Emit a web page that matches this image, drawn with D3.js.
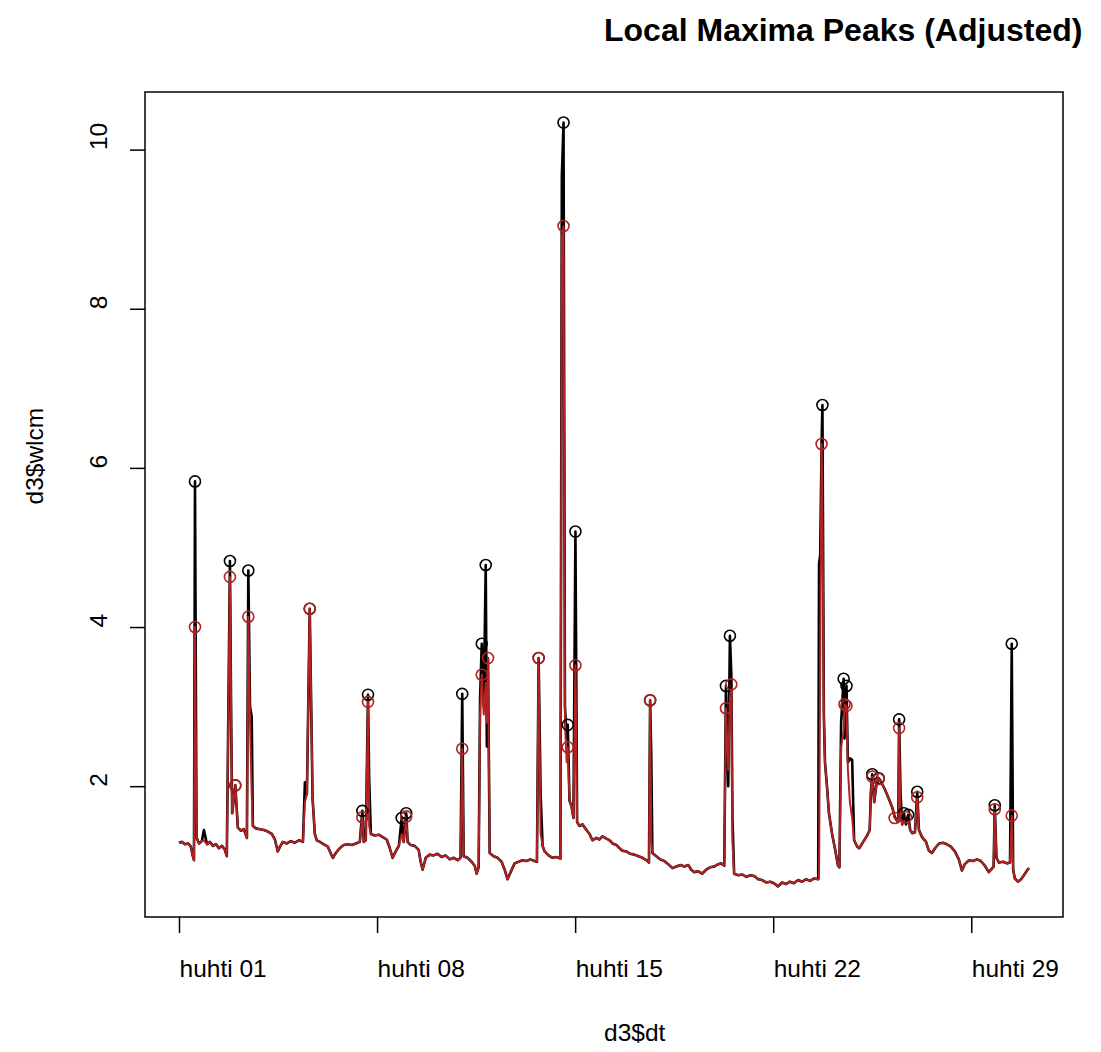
<!DOCTYPE html>
<html>
<head>
<meta charset="utf-8">
<script src="https://cdnjs.cloudflare.com/ajax/libs/d3/7.8.5/d3.min.js"></script>
<style>
  html, body { margin: 0; padding: 0; background: #ffffff; }
  svg { display: block; font-family: "Liberation Sans", Arial, sans-serif; }
</style>
</head>
<body>
<svg id="chart" width="1101" height="1052"></svg>
<script>
// ---------------- DATA ----------------
const titleText = "Local Maxima Peaks (Adjusted)";
const xLabel = "d3$dt";
const yLabel = "d3$wlcm";
const startDate = new Date(2017, 3, 1, 0, 0, 0); // huhti 01
const tickDays = [0, 7, 14, 21, 28];
const tickLabels = ["huhti 01", "huhti 08", "huhti 15", "huhti 22", "huhti 29"];
const yTicks = [2, 4, 6, 8, 10];

// [day offset from huhti 01, raw water level (cm), adjusted water level (cm)]
const obs = [
  [0.00,1.29,1.29],[0.11,1.30,1.30],[0.21,1.27,1.27],[0.32,1.28,1.28],[0.42,1.24,1.24],
  [0.49,1.12,1.12],[0.53,1.07,1.07],[0.565,5.83,4.00],[0.62,1.35,1.35],[0.71,1.28,1.28],
  [0.81,1.31,1.31],[0.88,1.45,1.32],[0.99,1.27,1.27],[1.09,1.30,1.30],[1.20,1.25,1.25],
  [1.31,1.27,1.27],[1.41,1.22,1.22],[1.52,1.25,1.25],[1.62,1.20,1.20],[1.69,1.12,1.12],
  [1.80,4.83,4.63],[1.85,2.60,2.60],[1.88,1.66,1.66],[1.99,2.01,2.01],[2.08,1.48,1.48],
  [2.19,1.44,1.44],[2.29,1.46,1.46],[2.37,1.38,1.38],[2.40,1.35,1.35],[2.45,4.71,4.13],
  [2.51,3.00,2.80],[2.57,2.87,1.90],[2.61,1.50,1.50],[2.72,1.47,1.47],[2.86,1.46,1.46],
  [3.00,1.45,1.45],[3.14,1.43,1.43],[3.28,1.40,1.40],[3.39,1.33,1.33],[3.49,1.18,1.18],
  [3.57,1.24,1.24],[3.67,1.30,1.30],[3.81,1.28,1.28],[3.95,1.31,1.31],[4.09,1.29,1.29],
  [4.24,1.32,1.32],[4.38,1.30,1.30],[4.45,2.05,1.80],[4.52,1.90,1.90],[4.62,4.23,4.23],
  [4.69,2.60,2.60],[4.72,1.85,1.85],[4.80,1.40,1.40],[4.87,1.32,1.32],[4.98,1.30,1.30],
  [5.12,1.27,1.27],[5.26,1.24,1.24],[5.37,1.15,1.15],[5.44,1.10,1.10],[5.54,1.16,1.16],
  [5.68,1.22,1.22],[5.82,1.26,1.26],[5.97,1.27,1.27],[6.11,1.26,1.26],[6.25,1.28,1.28],
  [6.39,1.30,1.30],[6.48,1.69,1.61],[6.53,1.30,1.30],[6.60,1.32,1.32],[6.68,3.15,3.06],
  [6.72,2.10,1.50],[6.78,1.40,1.40],[6.92,1.38,1.38],[7.06,1.39,1.39],[7.20,1.36,1.36],
  [7.34,1.33,1.33],[7.45,1.22,1.22],[7.55,1.10,1.10],[7.66,1.18,1.18],[7.77,1.25,1.25],
  [7.87,1.60,1.40],[7.94,1.30,1.30],[8.03,1.66,1.62],[8.08,1.30,1.30],[8.19,1.26,1.26],
  [8.33,1.25,1.25],[8.47,1.20,1.20],[8.54,1.05,1.05],[8.61,0.95,0.95],[8.72,1.10,1.10],
  [8.86,1.14,1.14],[9.00,1.13,1.13],[9.14,1.15,1.15],[9.28,1.11,1.11],[9.42,1.13,1.13],
  [9.57,1.08,1.08],[9.71,1.10,1.10],[9.85,1.07,1.07],[9.95,1.10,1.10],[10.01,3.16,2.47],
  [10.06,1.12,1.12],[10.20,1.10,1.10],[10.34,1.05,1.05],[10.45,1.00,1.00],[10.52,0.90,0.90],
  [10.59,0.98,0.98],[10.64,3.10,2.90],[10.70,3.79,3.40],[10.77,3.00,2.90],[10.84,4.78,3.30],
  [10.88,2.50,2.80],[10.92,3.61,3.61],[10.98,1.16,1.16],[11.12,1.12,1.12],[11.26,1.10,1.10],
  [11.40,1.05,1.05],[11.51,0.95,0.95],[11.61,0.83,0.83],[11.72,0.92,0.92],[11.86,1.03,1.03],
  [12.00,1.05,1.05],[12.14,1.07,1.07],[12.28,1.06,1.06],[12.42,1.08,1.08],[12.56,1.06,1.06],
  [12.65,1.05,1.05],[12.71,3.61,3.61],[12.78,1.90,1.40],[12.85,1.25,1.25],[12.92,1.18,1.18],
  [13.06,1.13,1.13],[13.20,1.10,1.10],[13.34,1.11,1.11],[13.48,1.09,1.09],[13.53,9.66,8.90],
  [13.59,10.34,9.04],[13.64,3.00,2.80],[13.70,2.60,2.30],[13.74,2.77,2.49],[13.80,1.82,1.82],
  [13.87,1.75,1.75],[13.94,1.60,1.60],[14.01,5.20,3.52],[14.07,1.55,1.55],[14.15,1.50,1.50],
  [14.26,1.52,1.52],[14.40,1.45,1.45],[14.51,1.40,1.40],[14.61,1.32,1.32],[14.75,1.35,1.35],
  [14.86,1.33,1.33],[14.96,1.37,1.37],[15.11,1.34,1.34],[15.22,1.32,1.32],[15.32,1.28,1.28],
  [15.46,1.26,1.26],[15.57,1.22,1.22],[15.67,1.19,1.19],[15.81,1.18,1.18],[15.95,1.15,1.15],
  [16.09,1.14,1.14],[16.24,1.12,1.12],[16.38,1.10,1.10],[16.52,1.07,1.07],[16.61,1.04,1.04],
  [16.65,3.08,3.08],[16.69,2.40,1.30],[16.73,1.16,1.16],[16.87,1.12,1.12],[17.01,1.08,1.08],
  [17.15,1.06,1.06],[17.29,1.02,1.02],[17.44,0.97,0.97],[17.58,0.99,0.99],[17.72,1.01,1.01],
  [17.86,0.99,0.99],[18.00,1.01,1.01],[18.10,0.95,0.95],[18.21,0.92,0.92],[18.35,0.93,0.93],
  [18.49,0.90,0.90],[18.63,0.95,0.95],[18.77,0.98,0.98],[18.91,0.99,0.99],[19.06,1.02,1.02],
  [19.16,1.03,1.03],[19.27,1.00,1.00],[19.33,3.26,2.98],[19.41,2.00,2.20],[19.47,3.89,3.10],
  [19.52,3.40,3.28],[19.56,1.60,1.30],[19.62,0.90,0.90],[19.77,0.88,0.88],[19.91,0.89,0.89],
  [20.05,0.86,0.86],[20.19,0.88,0.88],[20.33,0.87,0.87],[20.47,0.83,0.83],[20.61,0.82,0.82],
  [20.75,0.79,0.79],[20.89,0.80,0.80],[21.03,0.78,0.78],[21.17,0.74,0.74],[21.31,0.79,0.79],
  [21.45,0.77,0.77],[21.59,0.80,0.80],[21.73,0.78,0.78],[21.88,0.82,0.82],[22.02,0.80,0.80],
  [22.16,0.83,0.83],[22.30,0.81,0.81],[22.45,0.84,0.84],[22.59,0.83,0.83],[22.62,4.80,0.84],
  [22.66,4.90,3.50],[22.71,6.30,6.30],[22.74,6.79,5.50],[22.79,2.90,2.90],[22.83,2.30,2.30],
  [22.90,2.00,2.00],[22.97,1.66,1.66],[23.08,1.40,1.40],[23.19,1.20,1.20],[23.29,1.00,1.00],
  [23.34,0.98,0.98],[23.40,2.80,2.50],[23.49,3.35,2.70],[23.52,2.60,3.03],[23.59,3.26,3.01],
  [23.64,2.30,2.20],[23.71,2.35,1.80],[23.79,2.33,1.60],[23.86,1.32,1.32],[23.97,1.24,1.24],
  [24.04,1.22,1.22],[24.18,1.30,1.30],[24.32,1.38,1.38],[24.41,1.45,1.45],[24.45,1.91,1.91],
  [24.50,2.15,2.12],[24.57,1.80,1.80],[24.64,2.00,2.00],[24.73,2.10,2.09],[24.82,2.05,2.05],
  [24.96,1.95,1.95],[25.10,1.83,1.83],[25.21,1.73,1.73],[25.29,1.62,1.60],[25.35,1.58,1.58],
  [25.42,1.55,1.55],[25.45,2.84,2.73],[25.50,1.90,1.60],[25.56,1.52,1.52],[25.62,1.66,1.55],
  [25.69,1.52,1.61],[25.77,1.64,1.55],[25.84,1.45,1.45],[25.91,1.41,1.41],[26.01,1.42,1.42],
  [26.09,1.93,1.86],[26.15,1.45,1.45],[26.26,1.36,1.36],[26.40,1.30,1.30],[26.50,1.19,1.19],
  [26.61,1.16,1.16],[26.72,1.22,1.22],[26.86,1.28,1.28],[27.00,1.29,1.29],[27.14,1.27,1.27],
  [27.28,1.24,1.24],[27.42,1.18,1.18],[27.56,1.08,1.08],[27.67,0.94,0.94],[27.77,1.02,1.02],
  [27.92,1.07,1.07],[28.06,1.06,1.06],[28.20,1.08,1.08],[28.34,1.06,1.06],[28.48,1.00,1.00],
  [28.62,0.92,0.92],[28.72,0.96,0.96],[28.79,0.99,0.99],[28.83,1.76,1.71],[28.89,1.10,1.10],
  [28.98,1.04,1.04],[29.12,1.05,1.05],[29.26,1.03,1.03],[29.37,1.04,1.04],[29.43,3.79,1.63],
  [29.48,0.95,0.95],[29.54,0.84,0.84],[29.65,0.80,0.80],[29.76,0.83,0.83],[29.86,0.88,0.88],
  [29.97,0.94,0.94],[30.04,0.97,0.97]
];

// local maxima found on the raw series [day, value]
const rawPeaks = [
  [0.565,5.83],[1.80,4.83],[1.99,2.01],[2.45,4.71],[4.62,4.23],[6.48,1.69],[6.68,3.15],
  [7.87,1.60],[8.03,1.66],[10.01,3.16],[10.70,3.79],[10.84,4.78],[12.71,3.61],[13.59,10.34],
  [13.74,2.77],[14.01,5.20],[16.65,3.08],[19.33,3.26],[19.47,3.89],[22.74,6.79],[23.49,3.35],
  [23.59,3.26],[24.50,2.15],[24.73,2.10],[25.45,2.84],[25.62,1.66],[25.77,1.64],[26.09,1.93],
  [28.83,1.76],[29.43,3.79]
];
// local maxima found on the adjusted series [day, value]
const adjPeaks = [
  [0.565,4.00],[1.80,4.63],[1.99,2.01],[2.45,4.13],[4.62,4.23],[6.48,1.61],[6.68,3.06],
  [8.03,1.62],[10.01,2.47],[10.70,3.40],[10.92,3.61],[12.71,3.61],[13.59,9.04],[13.74,2.49],
  [14.01,3.52],[16.65,3.08],[19.33,2.98],[19.52,3.28],[22.71,6.30],[23.52,3.03],[23.59,3.01],
  [24.50,2.12],[24.73,2.09],[25.29,1.60],[25.45,2.73],[25.69,1.61],[26.09,1.86],[28.83,1.71],
  [29.43,1.63]
];

// ---------------- DRAW ----------------
const DAY = 86400000;
const toDate = d => new Date(startDate.getTime() + d * DAY);

const box = { left: 145, right: 1063, top: 92, bottom: 917 };
const svg = d3.select("#chart");
const fontFamily = '"Liberation Sans", Arial, sans-serif';
const red = "#b22222";

// R-style 4% axis padding
const tExt = d3.extent(obs, r => r[0]);
const tPad = (tExt[1] - tExt[0]) * 0.04;
const x = d3.scaleTime()
  .domain([toDate(tExt[0] - tPad), toDate(tExt[1] + tPad)])
  .range([box.left, box.right]);

const vMin = d3.min(obs, r => Math.min(r[1], r[2]));
const vMax = d3.max(obs, r => Math.max(r[1], r[2]));
const vPad = (vMax - vMin) * 0.04;
const y = d3.scaleLinear()
  .domain([vMin - vPad, vMax + vPad])
  .range([box.bottom, box.top]);

svg.append("clipPath").attr("id", "plotclip")
  .append("rect")
  .attr("x", box.left).attr("y", box.top)
  .attr("width", box.right - box.left).attr("height", box.bottom - box.top);

const g = svg.append("g").attr("clip-path", "url(#plotclip)");

const rawLine = d3.line().x(r => x(toDate(r[0]))).y(r => y(r[1]));
const adjLine = d3.line().x(r => x(toDate(r[0]))).y(r => y(r[2]));

g.append("path").datum(obs)
  .attr("d", rawLine)
  .attr("fill", "none").attr("stroke", "#000").attr("stroke-width", 2.6)
  .attr("stroke-linejoin", "round");

g.append("path").datum(obs)
  .attr("d", adjLine)
  .attr("fill", "none").attr("stroke", red).attr("stroke-width", 2)
  .attr("stroke-linejoin", "round");

g.selectAll("circle.raw").data(rawPeaks).enter().append("circle")
  .attr("class", "raw")
  .attr("cx", p => x(toDate(p[0]))).attr("cy", p => y(p[1]))
  .attr("r", 5.5).attr("fill", "none").attr("stroke", "#000").attr("stroke-width", 1.6);

g.selectAll("circle.adj").data(adjPeaks).enter().append("circle")
  .attr("class", "adj")
  .attr("cx", p => x(toDate(p[0]))).attr("cy", p => y(p[1]))
  .attr("r", 5.5).attr("fill", "none").attr("stroke", red).attr("stroke-width", 1.6);

// plot box
svg.append("rect")
  .attr("x", box.left).attr("y", box.top)
  .attr("width", box.right - box.left).attr("height", box.bottom - box.top)
  .attr("fill", "none").attr("stroke", "#000").attr("stroke-width", 1.5);

// x axis (ticks + labels, labels start-anchored at tick)
const xAxis = d3.axisBottom(x)
  .tickValues(tickDays.map(toDate))
  .tickSize(16)
  .tickFormat((d, i) => tickLabels[i]);
const xa = svg.append("g").attr("transform", `translate(0,${box.bottom})`).call(xAxis);
xa.select(".domain").remove();
xa.selectAll(".tick line").attr("stroke", "#000").attr("stroke-width", 1.5);
xa.selectAll(".tick text")
  .attr("text-anchor", "start").attr("y", 60).attr("dy", 0)
  .attr("fill", "#000").style("font-size", "24.5px").style("font-family", fontFamily);

// y axis
const yAxis = d3.axisLeft(y).tickValues(yTicks).tickSize(15).tickFormat(d3.format("d"));
const ya = svg.append("g").attr("transform", `translate(${box.left},0)`).call(yAxis);
ya.select(".domain").remove();
ya.selectAll(".tick line").attr("stroke", "#000").attr("stroke-width", 1.5);
ya.selectAll(".tick text")
  .attr("x", null).attr("dy", null)
  .attr("transform", "translate(-38,0) rotate(-90)")
  .attr("text-anchor", "start")
  .attr("fill", "#000").style("font-size", "24.5px").style("font-family", fontFamily);

// titles
svg.append("text")
  .attr("x", (box.left + box.right) / 2).attr("y", 41)
  .attr("text-anchor", "start")
  .style("font-family", fontFamily).style("font-size", "32px").style("font-weight", "bold")
  .text(titleText);

svg.append("text")
  .attr("x", (box.left + box.right) / 2).attr("y", 1041)
  .attr("text-anchor", "start")
  .style("font-family", fontFamily).style("font-size", "24.5px")
  .text(xLabel);

svg.append("text")
  .attr("transform", `translate(43,${(box.top + box.bottom) / 2}) rotate(-90)`)
  .attr("text-anchor", "start")
  .style("font-family", fontFamily).style("font-size", "24.5px")
  .text(yLabel);
</script>
</body>
</html>
